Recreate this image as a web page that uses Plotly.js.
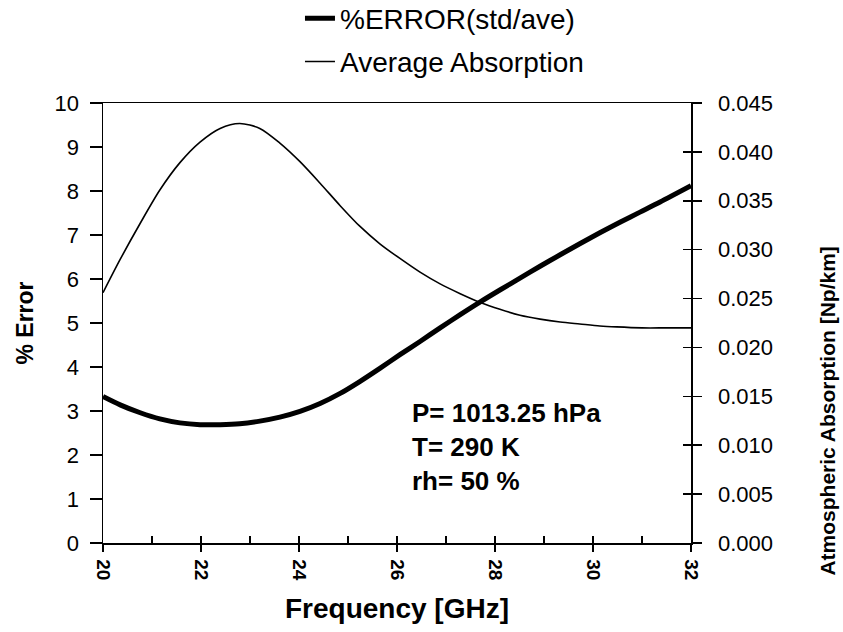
<!DOCTYPE html>
<html>
<head>
<meta charset="utf-8">
<script src="https://cdn.plot.ly/plotly-3.0.1.min.js"></script>
<style>
html,body{margin:0;padding:0;background:#fff;}
#chart{width:843px;height:632px;}
</style>
</head>
<body>
<div id="chart"></div>
<script>
// Average Absorption [Np/km] (right axis)
const freqAbs = [20.0, 20.35, 20.76, 21.16, 21.57, 21.98, 22.39, 22.79, 23.20, 23.61, 24.02, 24.43, 24.84, 25.24, 25.65, 26.06, 26.47, 26.88, 27.29, 27.70, 28.10, 28.51, 28.92, 29.33, 29.73, 30.14, 30.48, 31.0, 31.5, 32.0];
const avgAbsorption = [0.0256, 0.0290, 0.0327, 0.0361, 0.0389, 0.0410, 0.0424, 0.0429, 0.0424, 0.0409, 0.0390, 0.0368, 0.0345, 0.0324, 0.0306, 0.0291, 0.0277, 0.0265, 0.0255, 0.0246, 0.0239, 0.0233, 0.0229, 0.0226, 0.0224, 0.0222, 0.0221, 0.0220, 0.0220, 0.0220];

// %ERROR (std/ave) (left axis)
const freqErr = [20.0, 20.35, 20.76, 21.16, 21.57, 21.98, 22.39, 22.79, 23.20, 23.61, 24.02, 24.43, 24.84, 25.24, 25.65, 26.06, 26.47, 26.88, 27.29, 27.70, 28.10, 28.51, 28.92, 29.33, 29.73, 30.14, 30.55, 30.96, 31.37, 32.0];
const pctError = [3.33, 3.14, 2.96, 2.82, 2.73, 2.69, 2.69, 2.71, 2.77, 2.86, 2.99, 3.17, 3.40, 3.67, 3.97, 4.28, 4.58, 4.89, 5.19, 5.48, 5.75, 6.02, 6.29, 6.55, 6.80, 7.05, 7.29, 7.52, 7.75, 8.12];

const errTicks = [0,1,2,3,4,5,6,7,8,9,10];
const absTicks = [0, 0.005, 0.010, 0.015, 0.020, 0.025, 0.030, 0.035, 0.040, 0.045];
const absTickText = ["0.000","0.005","0.010","0.015","0.020","0.025","0.030","0.035","0.040","0.045"];
const freqTicks = [20,22,24,26,28,30,32];
const freqMinor = [20,21,22,23,24,25,26,27,28,29,30,31,32];

const FONT = "Liberation Sans, Arial, Helvetica, sans-serif";

const traces = [
  {
    x: freqErr, y: pctError, type: "scatter", mode: "lines",
    name: "%ERROR(std/ave)", legendgroup: "a",
    line: {color: "#000", width: 5, shape: "spline", smoothing: 0.8},
    xaxis: "x", yaxis: "y"
  },
  {
    x: freqAbs, y: avgAbsorption, type: "scatter", mode: "lines",
    name: "Average Absorption", legendgroup: "b",
    line: {color: "#000", width: 1.6, shape: "spline", smoothing: 0.8},
    xaxis: "x", yaxis: "y2"
  },
  // empty helper traces so the overlay tick axes are drawn
  {x: [], y: [], type: "scatter", mode: "lines", showlegend: false, hoverinfo: "skip", xaxis: "x2", yaxis: "y"},
  {x: [], y: [], type: "scatter", mode: "lines", showlegend: false, hoverinfo: "skip", xaxis: "x", yaxis: "y3"}
];

const layout = {
  width: 843, height: 632,
  margin: {l: 103, r: 152, t: 103, b: 89, autoexpand: false},
  paper_bgcolor: "#fff", plot_bgcolor: "#fff",
  font: {family: FONT, color: "#000"},
  showlegend: true,
  legend: {
    x: 0.335, y: 1.249, xanchor: "left", yanchor: "top",
    bgcolor: "rgba(0,0,0,0)", borderwidth: 0,
    font: {family: FONT, size: 28, color: "#000"},
    tracegroupgap: 4, itemwidth: 30
  },
  xaxis: {
    range: [20, 32], tickvals: freqTicks, ticktext: freqTicks.map(String),
    ticks: "outside", ticklen: 7, tickwidth: 1.5, tickcolor: "#000",
    tickangle: 90, tickfont: {family: FONT, size: 19, weight: "bold"}, ticklabelstandoff: 4,
    showline: true, linecolor: "#000", linewidth: 1.5, mirror: true,
    showgrid: false, zeroline: false, fixedrange: true,
    title: {text: "Frequency [GHz]", font: {family: FONT, size: 28, weight: "bold"}, standoff: 18}
  },
  xaxis2: {
    range: [20, 32], overlaying: "x", anchor: "y", side: "bottom",
    tickvals: freqMinor, ticks: "inside", ticklen: 7, tickwidth: 1.5, tickcolor: "#000",
    showticklabels: false, showline: false, showgrid: false, zeroline: false
  },
  yaxis: {
    range: [0, 10], tickvals: errTicks, ticktext: errTicks.map(String),
    ticks: "outside", ticklen: 12, tickwidth: 1.5, tickcolor: "#000",
    tickfont: {family: FONT, size: 22}, ticklabelstandoff: 6,
    showline: true, linecolor: "#000", linewidth: 1.5,
    showgrid: false, zeroline: false, fixedrange: true,
    title: {text: "% Error", font: {family: FONT, size: 23, weight: "bold"}, standoff: 14}
  },
  yaxis2: {
    range: [0, 0.045], overlaying: "y", side: "right", anchor: "x",
    tickvals: absTicks, ticktext: absTickText,
    ticks: "outside", ticklen: 9, tickwidth: 1.5, tickcolor: "#000",
    tickfont: {family: FONT, size: 22}, ticklabelstandoff: 12,
    showline: true, linecolor: "#000", linewidth: 1.5,
    showgrid: false, zeroline: false, fixedrange: true
  },
  yaxis3: {
    range: [0, 0.045], overlaying: "y", side: "right", anchor: "x",
    tickvals: absTicks, ticks: "inside", ticklen: 8, tickwidth: 1.5, tickcolor: "#000",
    showticklabels: false, showline: false, showgrid: false, zeroline: false
  },
  annotations: [
    {
      xref: "paper", yref: "paper", x: 0.522, y: 0.335, xanchor: "left", yanchor: "top",
      align: "left", showarrow: false,
      text: "P= 1013.25 hPa<br>T= 290 K<br>rh= 50 %",
      font: {family: FONT, size: 26, weight: "bold", color: "#000"}
    },
    {
      xref: "paper", yref: "paper", x: 1.2535, y: 0.30, xanchor: "right", yanchor: "middle",
      textangle: -90, showarrow: false,
      text: "Atmospheric Absorption [Np/km]",
      font: {family: FONT, size: 21, weight: "bold", color: "#000"}
    }
  ]
};

Plotly.newPlot("chart", traces, layout, {staticPlot: true, displayModeBar: false});
</script>
</body>
</html>
